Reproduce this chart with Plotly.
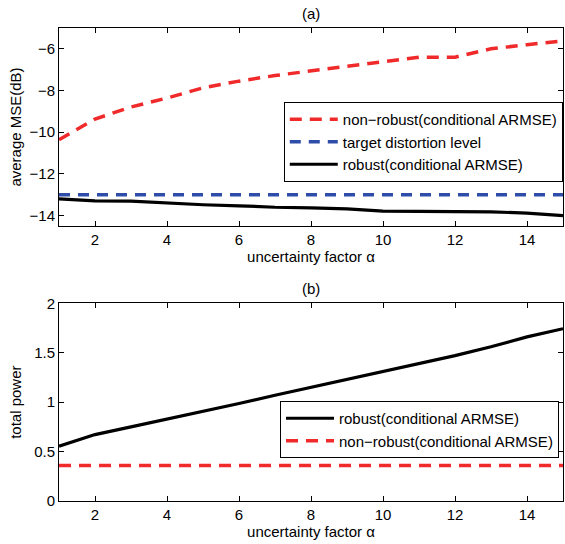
import plotly.graph_objects as go

alpha = list(range(1, 16))
mse_nonrobust = [-10.36, -9.37, -8.79, -8.36, -7.87, -7.55, -7.28, -7.07, -6.83, -6.61, -6.40, -6.40, -6.00, -5.80, -5.62]
mse_target = [-13.0] * 15
mse_robust = [-13.20, -13.29, -13.31, -13.40, -13.48, -13.53, -13.60, -13.63, -13.68, -13.79, -13.79, -13.82, -13.82, -13.88, -14.00]
power_robust = [0.554, 0.672, 0.750, 0.828, 0.905, 0.986, 1.070, 1.149, 1.225, 1.307, 1.385, 1.470, 1.560, 1.660, 1.743]
power_nonrobust = [0.36] * 15

RED = "#f02a2a"
BLUE = "#2e4da8"
FONT = "Liberation Sans, Arial, sans-serif"

fig = go.Figure()
fig.add_trace(go.Scatter(x=alpha, y=mse_nonrobust, mode="lines", name="non−robust(conditional ARMSE)",
                         line=dict(color=RED, width=3.5, dash="12px,8px"), xaxis="x", yaxis="y", legend="legend"))
fig.add_trace(go.Scatter(x=alpha, y=mse_target, mode="lines", name="target distortion level",
                         line=dict(color=BLUE, width=3.5, dash="11px,8px"), xaxis="x", yaxis="y", legend="legend"))
fig.add_trace(go.Scatter(x=alpha, y=mse_robust, mode="lines", name="robust(conditional ARMSE)",
                         line=dict(color="black", width=3.2), xaxis="x", yaxis="y", legend="legend"))
fig.add_trace(go.Scatter(x=alpha, y=power_robust, mode="lines", name="robust(conditional ARMSE)",
                         line=dict(color="black", width=3.2), xaxis="x2", yaxis="y2", legend="legend2"))
fig.add_trace(go.Scatter(x=alpha, y=power_nonrobust, mode="lines", name="non−robust(conditional ARMSE)",
                         line=dict(color=RED, width=3.5, dash="12px,8px"), xaxis="x2", yaxis="y2", legend="legend2"))

axcommon = dict(showline=True, linecolor="black", linewidth=1, mirror="ticks", ticks="inside",
                ticklen=5, tickcolor="black", showgrid=False, zeroline=False,
                tickfont=dict(size=15, color="black", family=FONT))

fig.update_layout(
    width=565, height=544,
    margin=dict(l=59, r=2, t=28, b=43, autoexpand=False),
    plot_bgcolor="white", paper_bgcolor="white",
    font=dict(family=FONT, color="black", size=15),
    xaxis=dict(domain=[0, 1], range=[1, 15], tickvals=[2, 4, 6, 8, 10, 12, 14], anchor="y",
               title=dict(text="uncertainty factor α", standoff=2, font=dict(size=15)), **axcommon),
    yaxis=dict(domain=[0.5814, 1], range=[-14.5, -5], tickvals=[-14, -12, -10, -8, -6], anchor="x",
               title=dict(text="average MSE(dB)", standoff=4, font=dict(size=15)), **axcommon),
    xaxis2=dict(domain=[0, 1], range=[1, 15], tickvals=[2, 4, 6, 8, 10, 12, 14], anchor="y2",
                title=dict(text="uncertainty factor α", standoff=2, font=dict(size=15)), **axcommon),
    yaxis2=dict(domain=[0, 0.418], range=[0, 2], tickvals=[0, 0.5, 1, 1.5, 2], ticktext=["0", "0.5", "1", "1.5", "2"],
                anchor="x2", title=dict(text="total power", standoff=8, font=dict(size=15)), **axcommon),
    legend=dict(x=0.446, y=0.8436, xanchor="left", yanchor="top", xref="paper", yref="paper",
                bgcolor="white", bordercolor="black", borderwidth=1, font=dict(size=15, family=FONT),
                itemwidth=48, tracegroupgap=0, traceorder="normal"),
    legend2=dict(x=0.4385, y=0.2114, xanchor="left", yanchor="top", xref="paper", yref="paper",
                 bgcolor="white", bordercolor="black", borderwidth=1, font=dict(size=15, family=FONT),
                 itemwidth=48, tracegroupgap=0, traceorder="normal"),
    annotations=[
        dict(text="(a)", x=0.5, y=1, xref="paper", yref="paper", yanchor="bottom", yshift=4, showarrow=False,
             font=dict(size=15, family=FONT)),
        dict(text="(b)", x=0.5, y=0.418, xref="paper", yref="paper", yanchor="bottom", yshift=4, showarrow=False,
             font=dict(size=15, family=FONT)),
    ],
    showlegend=True,
)

fig.write_html("out.html")
